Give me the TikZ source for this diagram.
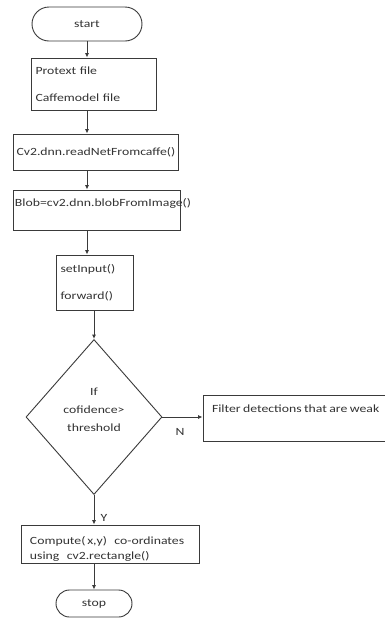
\documentclass[tikz,border=0pt]{standalone}
\usepackage{fontspec}
\setmainfont[FakeStretch=1.25]{Carlito}
\usetikzlibrary{shapes.geometric,arrows.meta}
\definecolor{ink}{HTML}{3A3A3A}
\definecolor{txt}{HTML}{333333}
\tikzset{
  base/.style={draw=ink, line width=0.9pt, text=txt, font=\fontsize{11}{13}\selectfont, inner sep=0pt},
  procbox/.style={base, rectangle, align=left, minimum width=#1},
  term/.style={base, rectangle, rounded corners=#1, align=center},
  decision/.style={base, diamond, minimum width=136pt, minimum height=155pt},
  flow/.style={draw=ink, line width=0.9pt, -{Latex[length=4.5pt,width=4pt]}},
  tag/.style={text=txt, font=\fontsize{11}{13}\selectfont, inner sep=0pt}
}
\begin{document}
\begin{tikzpicture}[x=1pt,y=-1pt]
\useasboundingbox[fill=white] (0,0) rectangle (385,619);

% terminals
\node[term=17pt, minimum width=110pt, minimum height=34pt] (start) at (87,24) {start};
\node[term=13.5pt, minimum width=76pt, minimum height=27pt] (stop) at (94,603.5) {stop};

% process boxes
\node[procbox=125pt, minimum height=52pt, text width=116pt] (files) at (93.5,84)
  {Protext file\\[14pt]Caffemodel file};
\node[procbox=165pt, minimum height=36pt, text width=158pt] (readnet) at (95.5,152)
  {Cv2.dnn.readNetFromcaffe()};
\node[procbox=167pt, minimum height=40pt, text width=163pt] (blob) at (96.5,210)
  {\raisebox{4pt}[0pt][0pt]{Blob=cv2.dnn.blobFromImage()}};
\node[procbox=77pt, minimum height=55pt, text width=68pt] (net) at (94.5,282.5)
  {setInput()\\[14pt]forward()};

% decision: outline plus its three-line question
\node[decision] (cond) at (94,417) {};
\node[tag, align=center] (condtext) at (94,410)
  {If\\[5pt]cofidence>\\[5pt]threshold};

\node[procbox=182pt, minimum height=46pt, text width=164pt] (filter) at (294,418)
  {\raisebox{6pt}[0pt][0pt]{\spaceskip=2.4pt Filter detections that are weak}};
\node[procbox=178pt, minimum height=38pt, text width=160pt] (coords) at (110,544)
  {\rule{0pt}{18pt}Compute(\,x,y)\ \ co-ordinates\\[2pt]using\ \ cv2.rectangle()};

% connectors
\draw[flow] (start.south) -- (start.south |- files.north);
\draw[flow] (start.south |- files.south) -- (start.south |- readnet.north);
\draw[flow] (start.south |- readnet.south) -- (start.south |- blob.north);
\draw[flow] (start.south |- blob.south) -- (start.south |- net.north);
\draw[flow] (cond.north |- net.south) -- (cond.north);
\draw[flow] (cond.east) -- (filter.west |- cond.east);
\draw[flow] (cond.south) -- (cond.south |- coords.north);
\draw[flow] (stop.north |- coords.south) -- (stop.north);

% branch labels
\node[tag] (nolabel) at (180,432) {N};
\node[tag] (yeslabel) at (104,518) {Y};
\end{tikzpicture}
\end{document}
